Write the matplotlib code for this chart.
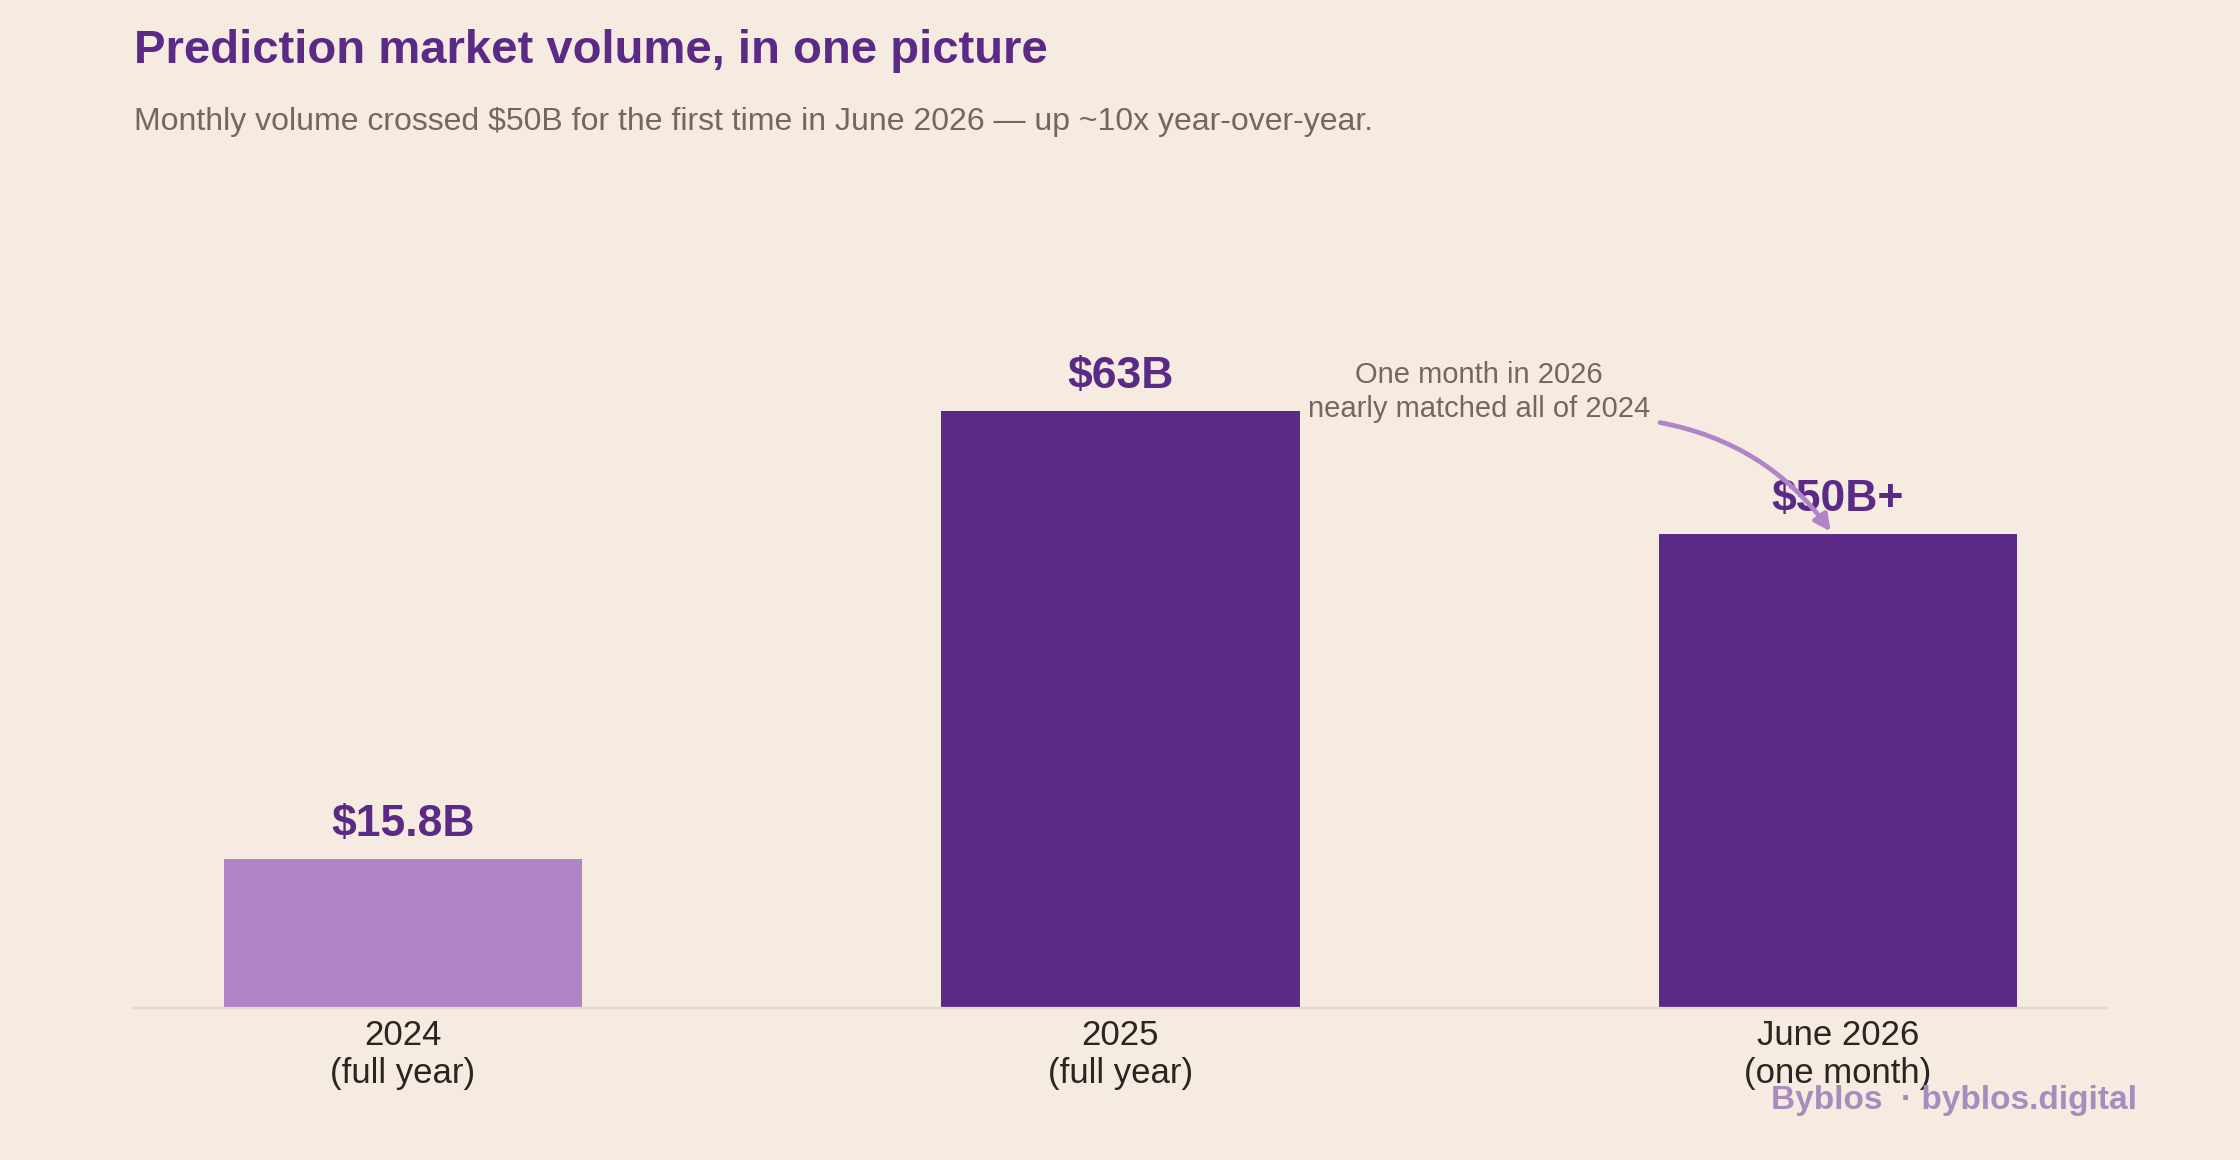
import matplotlib
matplotlib.use('Agg')
import matplotlib.pyplot as plt

plt.rcParams['font.family'] = ['Liberation Sans', 'DejaVu Sans']

categories = ['2024\n(full year)', '2025\n(full year)', 'June 2026\n(one month)']
values = [15.8, 63, 50]
value_labels = ['$15.8B', '$63B', '$50B+']
bar_colors = ['#b085c8', '#5b2a86', '#5b2a86']

title = 'Prediction market volume, in one picture'
subtitle = 'Monthly volume crossed $50B for the first time in June 2026 \u2014 up ~10x year-over-year.'
note = 'One month in 2026\nnearly matched all of 2024'
footer = 'Byblos  \u00b7 byblos.digital'

bg = '#f5ebe0'
purple = '#5b2a86'

fig = plt.figure(figsize=(11.2, 5.8), dpi=200, facecolor=bg)
ax = fig.add_axes([0.0598, 0.1308, 0.8808, 0.670])
ax.set_facecolor(bg)

x = list(range(len(values)))
ax.bar(x, values, width=0.5, color=bar_colors, zorder=2)
ax.set_xlim(-0.375, 2.375)
ax.set_ylim(0, 82)

for xi, v, lab in zip(x, values, value_labels):
    ax.annotate(lab, xy=(xi, v), xytext=(0, 5), textcoords='offset points',
                ha='center', va='bottom', fontsize=16, fontweight='bold',
                color=purple, zorder=3)

ax.set_xticks(x)
ax.set_xticklabels(categories, fontsize=12.5, color='#2b2420', linespacing=1.17)
ax.tick_params(axis='x', length=0, pad=4)
ax.set_yticks([])
for s in ['top', 'right', 'left']:
    ax.spines[s].set_visible(False)
ax.spines['bottom'].set_color('#e6d8cb')
ax.spines['bottom'].set_linewidth(0.8)

# note + curved arrow to the June bar
ax.text(1.5, values[1] + 2.0, note, ha='center', va='center', fontsize=10.5,
        color='#76675e', linespacing=1.28)
ax.annotate('', xy=(1.99, values[2] + 0.3), xytext=(1.752, values[1] - 1.2),
            arrowprops=dict(arrowstyle='-|>', color='#b085c8', lw=1.7,
                            connectionstyle='arc3,rad=-0.2',
                            shrinkA=0, shrinkB=0, mutation_scale=12),
            zorder=4)

fig.text(134 / 2240, 1 - 63 / 1160, title, fontsize=17, fontweight='bold',
         color=purple, ha='left', va='baseline')
fig.text(134 / 2240, 1 - 130 / 1160, subtitle, fontsize=11.5,
         color='#76675e', ha='left', va='baseline')
fig.text(2137 / 2240, 1 - 1109 / 1160, footer, fontsize=12, fontweight='bold',
         color='#a88cbf', ha='right', va='baseline')

fig.savefig('out.png', dpi=200, facecolor=bg)
plt.close(fig)
